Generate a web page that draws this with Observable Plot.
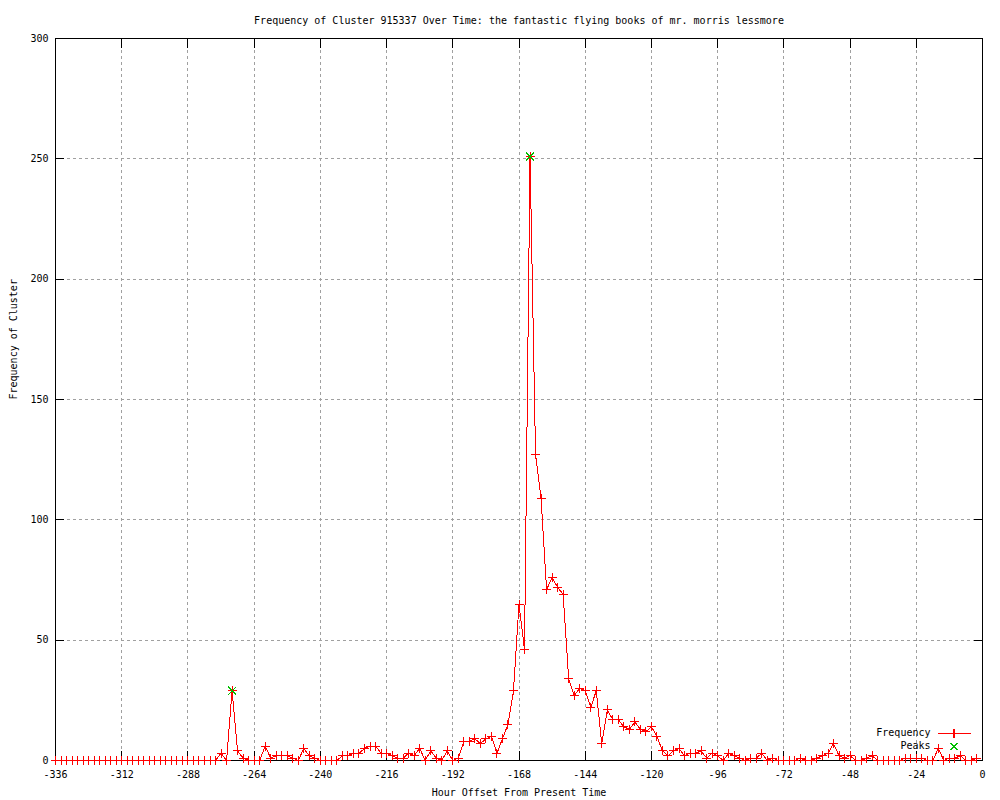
<!DOCTYPE html>
<html>
<head>
<meta charset="utf-8">
<script src="https://cdn.jsdelivr.net/npm/d3@7"></script>
<script src="https://cdn.jsdelivr.net/npm/@observablehq/plot@0.6"></script>
<style>
  html, body { margin: 0; padding: 0; background: white; }
  svg { shape-rendering: crispEdges; }
</style>
</head>
<body>
<div id="chart"></div>
<script>
const titleText = "Frequency of Cluster 915337 Over Time: the fantastic flying books of mr. morris lessmore";
const xLabel = "Hour Offset From Present Time";
const yLabel = "Frequency of Cluster";

const hours = [
  -336,-334,-332,-330,-328,-326,-324,-322,-320,-318,-316,-314,-312,-310,-308,-306,-304,-302,-300,-298,
  -296,-294,-292,-290,-288,-286,-284,-282,-280,-278,-276,-274,-272,-270,-268,-266,-264,-262,-260,-258,
  -256,-254,-252,-250,-248,-246,-244,-242,-240,-238,-236,-234,-232,-230,-228,-226,-224,-222,-220,-218,
  -216,-214,-212,-210,-208,-206,-204,-202,-200,-198,-196,-194,-192,-190,-188,-186,-184,-182,-180,-178,
  -176,-174,-172,-170,-168,-166,-164,-162,-160,-158,-156,-154,-152,-150,-148,-146,-144,-142,-140,-138,
  -136,-134,-132,-130,-128,-126,-124,-122,-120,-118,-116,-114,-112,-110,-108,-106,-104,-102,-100,-98,
  -96,-94,-92,-90,-88,-86,-84,-82,-80,-78,-76,-74,-72,-70,-68,-66,-64,-62,-60,-58,
  -56,-54,-52,-50,-48,-46,-44,-42,-40,-38,-36,-34,-32,-30,-28,-26,-24,-22,-20,-18,
  -16,-14,-12,-10,-8,-6,-4,-2
];
const frequency = [
  0,0,0,0,0,0,0,0,0,0,0,0,0,0,0,0,0,0,0,0,
  0,0,0,0,0,0,0,0,0,0,3,0,29,4,1,0,0,0,6,1,
  2,2,2,1,0,5,2,1,0,0,0,0,2,2,3,3,5,6,6,3,
  3,2,1,1,3,2,5,0,4,1,0,4,0,1,8,8,9,7,9,10,
  3,9,15,29,65,46,251,127,109,71,76,72,69,34,27,30,29,22,29,7,
  21,17,17,14,13,16,13,12,14,10,4,2,4,5,2,3,3,4,1,3,
  2,0,3,2,1,0,1,1,3,0,1,0,0,0,0,1,0,0,1,2,
  3,7,2,1,2,0,0,1,2,0,0,0,0,0,1,1,1,1,0,0,
  5,0,1,1,2,0,0,1
];
const peakHours = [-272, -164];
const peakValues = [29, 251];
const xTicks = [-336,-312,-288,-264,-240,-216,-192,-168,-144,-120,-96,-72,-48,-24,0];
const yTicks = [0,50,100,150,200,250,300];
const legendLabels = ["Frequency", "Peaks"];

const series = hours.map((h, i) => ({hour: h, value: frequency[i]}));
const peaks = peakHours.map((h, i) => ({hour: h, value: peakValues[i]}));

const plusSym = {draw(ctx, size) { const r = Math.sqrt(size / Math.PI); ctx.moveTo(-r, 0); ctx.lineTo(r, 0); ctx.moveTo(0, -r); ctx.lineTo(0, r); }};
const crossSym = {draw(ctx, size) { const r = Math.sqrt(size / Math.PI); ctx.moveTo(-r, -r); ctx.lineTo(r, r); ctx.moveTo(-r, r); ctx.lineTo(r, -r); }};
const lineSym = {draw(ctx, size) { const r = Math.sqrt(size / Math.PI); ctx.moveTo(-r, 0); ctx.lineTo(r, 0); }};

const chart = Plot.plot({
  width: 1000,
  height: 800,
  marginLeft: 55,
  marginRight: 18,
  marginTop: 38,
  marginBottom: 40,
  style: {fontFamily: "'DejaVu Sans Mono', monospace", fontSize: "10px", background: "white", color: "black"},
  x: {domain: [-336, 0]},
  y: {domain: [0, 300]},
  marks: [
    Plot.gridX({ticks: xTicks, stroke: "#a0a0a0", strokeOpacity: 1, strokeDasharray: "3,3"}),
    Plot.gridY({ticks: yTicks, stroke: "#a0a0a0", strokeOpacity: 1, strokeDasharray: "3,3"}),
    Plot.axisX({ticks: xTicks, tickSize: -9, tickPadding: 19, tickFormat: d => String(d), label: null}),
    Plot.axisX({anchor: "top", ticks: xTicks, tickSize: -9, tickFormat: () => "", label: null}),
    Plot.axisY({ticks: yTicks, tickSize: -9, tickPadding: 16, tickFormat: d => String(d), label: null}),
    Plot.axisY({anchor: "right", ticks: yTicks, tickSize: -9, tickFormat: () => "", label: null}),
    Plot.frame({stroke: "black"}),
    Plot.line(series, {x: "hour", y: "value", stroke: "#ff0000", strokeWidth: 1}),
    Plot.dot(series, {x: "hour", y: "value", symbol: plusSym, r: 4.5, stroke: "#ff0000", fill: "none", strokeWidth: 1}),
    Plot.dot(peaks, {x: "hour", y: "value", symbol: crossSym, r: 4, stroke: "#00c000", fill: "none", strokeWidth: 1}),
    Plot.text([titleText], {frameAnchor: "top", dy: -22, fill: "black"}),
    Plot.text([xLabel], {frameAnchor: "bottom", dy: 35, fill: "black"}),
    Plot.text([yLabel], {frameAnchor: "left", dx: -42, rotate: -90, fill: "black"}),
    Plot.text([legendLabels[0]], {frameAnchor: "bottom-right", dx: -52, dy: -25, textAnchor: "end", fill: "black"}),
    Plot.text([legendLabels[1]], {frameAnchor: "bottom-right", dx: -52, dy: -12, textAnchor: "end", fill: "black"}),
    Plot.dot([legendLabels[0]], {frameAnchor: "bottom-right", dx: -28.5, dy: -27, symbol: lineSym, r: 16.5, stroke: "#ff0000", fill: "none"}),
    Plot.dot([legendLabels[0]], {frameAnchor: "bottom-right", dx: -28.5, dy: -27, symbol: plusSym, r: 4.5, stroke: "#ff0000", fill: "none"}),
    Plot.dot([legendLabels[1]], {frameAnchor: "bottom-right", dx: -28.5, dy: -14, symbol: crossSym, r: 3.5, stroke: "#00c000", fill: "none"})
  ]
});
document.getElementById("chart").appendChild(chart);
</script>
</body>
</html>
